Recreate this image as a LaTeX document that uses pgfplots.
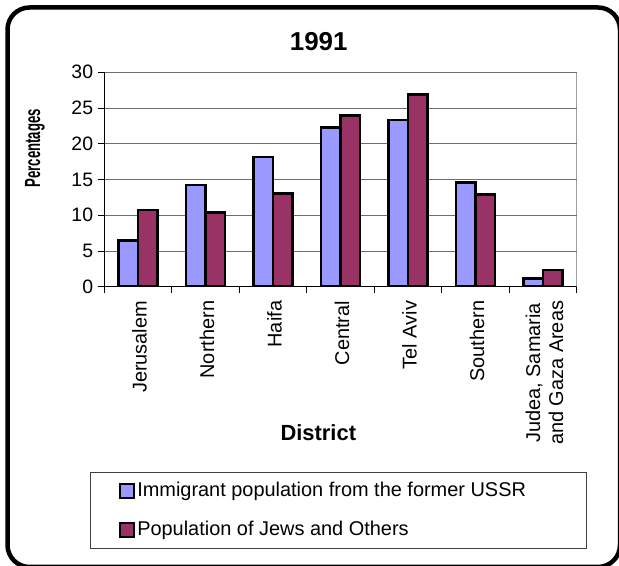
\documentclass[border=0pt]{standalone}
\usepackage{fontspec}
\setmainfont{Liberation Sans}
\usepackage{pgfplots}
\pgfplotsset{compat=1.18}

\definecolor{immblue}{HTML}{9999FF}
\definecolor{jewred}{HTML}{993366}
\definecolor{gridgray}{HTML}{6E6E6E}

\begin{document}
\begin{tikzpicture}
\useasboundingbox (0,0) rectangle (619bp,566bp);
\clip (0,0) rectangle (619bp,566bp);

% outer chart frame (right and bottom edges run off the picture)
\draw[line width=4.5bp, rounded corners=22bp, fill=white] (7.5bp,-1bp) rectangle (620bp,558.5bp);

\begin{axis}[
    at={(104.3bp,279.3bp)}, anchor=south west,
    scale only axis,
    width=472.4bp, height=214.4bp,
    ybar=0pt, bar width=19.5bp,
    xmin=-0.5, xmax=6.5,
    ymin=0, ymax=30,
    xtick={-0.5,0.5,1.5,2.5,3.5,4.5,5.5,6.5},
    x tick label as interval,
    xticklabels={Jerusalem, Northern, Haifa, Central, Tel Aviv, Southern, {Judea, Samaria\\and Gaza Areas}},
    ytick={0,5,10,15,20,25,30},
    tick align=outside,
    major tick length=6bp,
    tick style={black, line width=0.8bp},
    axis lines*=left,
    axis line style={black, line width=0.8bp},
    ymajorgrids=true,
    grid style={gridgray, line width=0.8bp},
    /pgf/number format/assume math mode=true,
    yticklabel style={font=\fontsize{19.5}{22}\selectfont, inner sep=0pt, xshift=-5bp},
    xticklabel style={font=\fontsize{20}{23}\selectfont, rotate=90, anchor=east, align=center, inner sep=0pt, xshift=-8bp, yshift=-1.5bp},
    legend cell align=left,
    legend image code/.code={\draw[#1, line width=1.8bp] (0bp,-7bp) rectangle (14bp,7bp);},
    legend style={
        at={(-0.0303,-0.8643)}, anchor=north west,
        draw=black!75, line width=1bp,
        inner xsep=29bp, inner ysep=7.7bp, row sep=17bp,
        font=\fontsize{20}{24}\selectfont,
        nodes={inner sep=2bp, text height=14bp, text depth=4bp},
    },
]
\addplot[fill=immblue, draw=black, line width=2.6bp] coordinates {
    (0,6.44) (1,14.23) (2,18.15) (3,22.26) (4,23.33) (5,14.56) (6,1.17)};
\addplot[fill=jewred, draw=black, line width=2.6bp] coordinates {
    (0,10.73) (1,10.41) (2,13.07) (3,23.98) (4,26.92) (5,12.88) (6,2.33)};
\addlegendentry{\makebox[418bp][l]{Immigrant population from the former USSR}}
\addlegendentry{\makebox[418bp][l]{Population of Jews and Others}}
\draw[gridgray, line width=0.8bp] (rel axis cs:1,0) -- (rel axis cs:1,1);
\end{axis}

\node[font=\bfseries\fontsize{26}{30}\selectfont] at (318.7bp,524.3bp) {1991};
\node[rotate=90, font=\bfseries\fontsize{22}{25}\selectfont] at (35bp,417.7bp) {\scalebox{0.6}[1]{Percentages}};
\node[font=\bfseries\fontsize{22}{25}\selectfont] at (318.3bp,133.5bp) {District};
\end{tikzpicture}
\end{document}
